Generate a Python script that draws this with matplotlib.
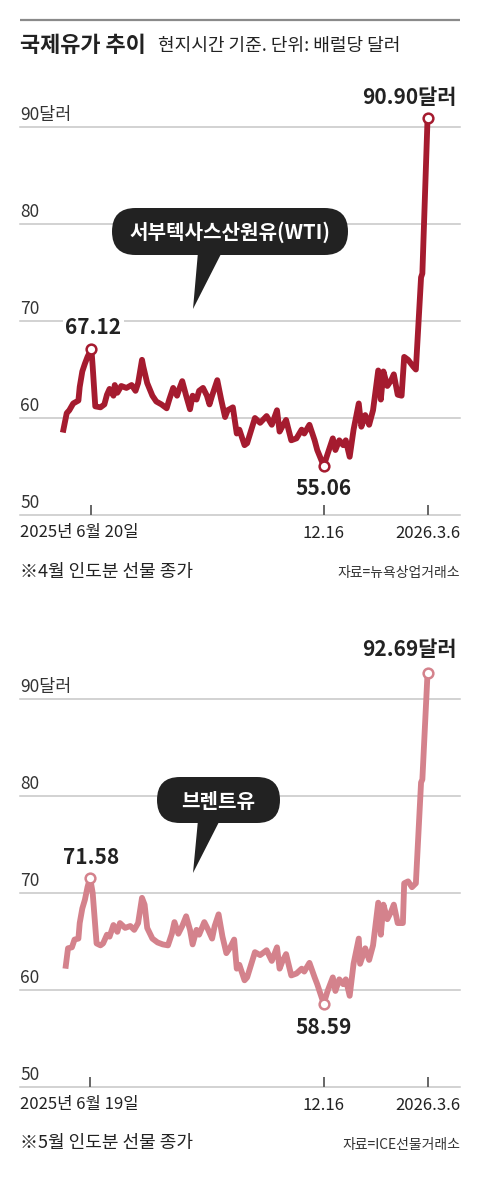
import matplotlib
matplotlib.use("Agg")
import matplotlib.pyplot as plt
import matplotlib.dates as mdates
from matplotlib.patches import FancyBboxPatch, Polygon
import pandas as pd

plt.rcParams['font.family'] = ['Noto Sans CJK KR', 'DejaVu Sans']

# ── data ──────────────────────────────────────────────────────────────────────

wti_dates = [
    "2025-05-29", "2025-06-01", "2025-06-03", "2025-06-06", "2025-06-10", "2025-06-11",
    "2025-06-13", "2025-06-15", "2025-06-17", "2025-06-20", "2025-06-21", "2025-06-23",
    "2025-06-27", "2025-06-30", "2025-07-02", "2025-07-04", "2025-07-07", "2025-07-08",
    "2025-07-10", "2025-07-13", "2025-07-17", "2025-07-21", "2025-07-24", "2025-07-26",
    "2025-07-29", "2025-07-30", "2025-08-02", "2025-08-06", "2025-08-09", "2025-08-13",
    "2025-08-17", "2025-08-19", "2025-08-22", "2025-08-25", "2025-08-27", "2025-08-29",
    "2025-09-01", "2025-09-04", "2025-09-06", "2025-09-09", "2025-09-11", "2025-09-14",
    "2025-09-17", "2025-09-19", "2025-09-21", "2025-09-25", "2025-09-28", "2025-10-01",
    "2025-10-03", "2025-10-07", "2025-10-10", "2025-10-12", "2025-10-16", "2025-10-18",
    "2025-10-24", "2025-10-28", "2025-11-02", "2025-11-06", "2025-11-10", "2025-11-12",
    "2025-11-14", "2025-11-17", "2025-11-21", "2025-11-25", "2025-11-29", "2025-12-01",
    "2025-12-05", "2025-12-09", "2025-12-11", "2025-12-16", "2025-12-19", "2025-12-23",
    "2025-12-25", "2025-12-28", "2025-12-31", "2026-01-02", "2026-01-05", "2026-01-08",
    "2026-01-12", "2026-01-14", "2026-01-17", "2026-01-20", "2026-01-23", "2026-01-27",
    "2026-01-29", "2026-01-31", "2026-02-03", "2026-02-06", "2026-02-08", "2026-02-11",
    "2026-02-14", "2026-02-16", "2026-02-19", "2026-02-23", "2026-02-25", "2026-03-01",
    "2026-03-02", "2026-03-06",
]
wti_values = [
    58.5, 60.5, 60.8, 61.5, 61.8, 63.2, 64.8, 65.6, 66.3, 67.12,
    65.3, 61.2, 61.1, 61.4, 62.4, 63.0, 62.3, 63.4, 62.6, 63.3,
    63.1, 63.4, 62.8, 63.6, 66.0, 65.3, 63.6, 62.3, 61.7, 61.4,
    61.0, 61.9, 63.1, 62.3, 63.1, 63.8, 62.3, 60.9, 62.3, 61.9,
    62.8, 63.1, 62.3, 61.4, 62.3, 63.9, 61.9, 60.1, 60.8, 61.1,
    58.4, 58.8, 57.2, 57.4, 60.0, 59.5, 60.2, 59.3, 60.8, 58.6,
    59.1, 59.8, 57.7, 57.9, 58.8, 58.4, 59.3, 57.7, 56.7, 55.06,
    56.3, 57.9, 56.7, 57.7, 57.2, 57.7, 56.0, 58.8, 61.5, 59.1,
    60.3, 59.3, 60.8, 64.9, 61.9, 64.8, 63.3, 63.9, 64.5, 62.4,
    62.3, 66.3, 66.0, 65.3, 65.0, 74.5, 74.9, 90.90,
]

brent_dates = [
    "2025-05-31", "2025-06-02", "2025-06-05", "2025-06-07", "2025-06-10", "2025-06-11",
    "2025-06-13", "2025-06-15", "2025-06-17", "2025-06-19", "2025-06-21", "2025-06-24",
    "2025-06-27", "2025-06-29", "2025-07-02", "2025-07-04", "2025-07-07", "2025-07-10",
    "2025-07-12", "2025-07-16", "2025-07-20", "2025-07-23", "2025-07-26", "2025-07-29",
    "2025-07-31", "2025-08-02", "2025-08-06", "2025-08-10", "2025-08-14", "2025-08-18",
    "2025-08-21", "2025-08-23", "2025-08-26", "2025-08-29", "2025-09-01", "2025-09-04",
    "2025-09-06", "2025-09-09", "2025-09-11", "2025-09-15", "2025-09-18", "2025-09-21",
    "2025-09-23", "2025-09-26", "2025-09-29", "2025-10-02", "2025-10-05", "2025-10-08",
    "2025-10-10", "2025-10-12", "2025-10-16", "2025-10-18", "2025-10-24", "2025-10-28",
    "2025-11-02", "2025-11-06", "2025-11-10", "2025-11-12", "2025-11-14", "2025-11-17",
    "2025-11-21", "2025-11-25", "2025-11-29", "2025-12-01", "2025-12-05", "2025-12-09",
    "2025-12-11", "2025-12-16", "2025-12-19", "2025-12-23", "2025-12-25", "2025-12-28",
    "2025-12-31", "2026-01-02", "2026-01-05", "2026-01-08", "2026-01-12", "2026-01-13",
    "2026-01-17", "2026-01-20", "2026-01-23", "2026-01-27", "2026-01-29", "2026-01-31",
    "2026-02-03", "2026-02-06", "2026-02-08", "2026-02-11", "2026-02-15", "2026-02-16",
    "2026-02-19", "2026-02-22", "2026-02-25", "2026-03-01", "2026-03-02", "2026-03-06",
]
brent_values = [
    62.2, 64.3, 64.4, 65.2, 65.3, 66.9, 68.4, 69.3, 70.6, 71.58,
    70.0, 64.8, 64.6, 64.8, 65.7, 65.5, 66.7, 66.0, 66.9, 66.4,
    66.6, 66.2, 66.9, 69.5, 68.8, 66.4, 65.3, 64.9, 64.7, 64.6,
    65.8, 67.0, 65.8, 66.6, 67.6, 66.2, 64.7, 66.2, 65.7, 67.0,
    66.2, 65.3, 66.6, 67.8, 65.5, 63.8, 64.4, 65.2, 62.2, 62.6,
    61.0, 61.3, 63.9, 63.6, 64.1, 63.0, 64.4, 62.2, 62.9, 63.7,
    61.5, 61.7, 62.2, 61.9, 62.8, 61.3, 60.6, 58.59, 59.9, 61.3,
    59.9, 61.1, 60.6, 61.1, 59.4, 62.7, 65.3, 62.7, 64.3, 63.1,
    64.6, 69.0, 65.7, 68.8, 67.3, 68.1, 68.8, 66.9, 66.9, 71.0,
    71.2, 70.6, 71.0, 81.4, 81.7, 92.69,
]

y_levels = [50, 60, 70, 80, 90]
y_labels = ["50", "60", "70", "80", "90달러"]

wti_ticks = ["2025-06-20", "2025-12-16", "2026-03-06"]
wti_tick_labels = ["2025년 6월 20일", "12.16", "2026.3.6"]
brent_ticks = ["2025-06-19", "2025-12-16", "2026-03-06"]
brent_tick_labels = ["2025년 6월 19일", "12.16", "2026.3.6"]

WTI_COLOR = "#a51b2f"
BRENT_COLOR = "#d4828c"
TEXT = "#222222"
GRID = "#c6c6c6"

W, H = 480, 1178
XLIM = (pd.Timestamp("2025-04-26"), pd.Timestamp("2026-03-31"))


def rect(x0, y_top, x1, y_bot):
    return [x0 / W, 1 - y_bot / H, (x1 - x0) / W, (y_bot - y_top) / H]


def draw_panel(ax, dates, values, color, ticks, tick_labels, offsets):
    x = pd.to_datetime(dates)
    ax.set_xlim(*XLIM)
    ax.set_ylim(50, 95)
    for s in ax.spines.values():
        s.set_visible(False)
    ax.patch.set_alpha(0)

    for lvl, lab in zip(y_levels, y_labels):
        ax.axhline(lvl, color=GRID, lw=1.1, zorder=1, clip_on=False)
        ax.annotate(lab, (0, lvl), xycoords=ax.get_yaxis_transform(),
                    xytext=(0, 3), textcoords='offset pixels',
                    ha='left', va='bottom', fontsize=12.5, color="#333333")

    ax.plot(x, values, color=color, lw=4.2, solid_joinstyle='round',
            solid_capstyle='butt', zorder=3)

    tick_x = pd.to_datetime(ticks)
    ax.set_xticks(tick_x)
    ax.tick_params(axis='x', direction='in', length=7, width=1.4,
                   color="#666666", labelbottom=False)
    ax.tick_params(axis='y', length=0, labelleft=False)

    trans = ax.get_xaxis_transform()
    ax.annotate(tick_labels[0], (0, 0), xycoords='axes fraction', xytext=(0, -18),
                textcoords='offset pixels', ha='left', va='center',
                fontsize=12, color=TEXT)
    ax.annotate(tick_labels[1], (mdates.date2num(tick_x[1]), 0), xycoords=trans,
                xytext=(0, -18), textcoords='offset pixels', ha='center', va='center',
                fontsize=12, color=TEXT)
    ax.annotate(tick_labels[2], (1, 0), xycoords='axes fraction', xytext=(0, -18),
                textcoords='offset pixels', ha='right', va='center',
                fontsize=12, color=TEXT)

    # highlighted points: peak, low, last
    i_peak = values.index(max(values[:20]))
    i_low = values.index(min(values))
    i_last = len(values) - 1
    for i, (dx, dy, ha, suffix) in zip([i_peak, i_low, i_last], offsets):
        xi = mdates.date2num(x[i])
        ax.plot(xi, values[i], 'o', ms=7, mfc='white', mec=color, mew=1.8, zorder=4)
        ax.annotate(f"{values[i]:.2f}{suffix}", (xi, values[i]), xytext=(dx, dy),
                    textcoords='offset pixels', ha=ha, va='center',
                    fontsize=15, fontweight='bold', color=TEXT, zorder=5,
                    bbox=dict(boxstyle='square,pad=0.12', fc='white', ec='none'))


fig = plt.figure(figsize=(W / 100, H / 100), dpi=100)
fig.patch.set_facecolor('white')

ax1 = fig.add_axes(rect(20, 515 - 45 * 9.7, 460, 515))
draw_panel(ax1, wti_dates, wti_values, WTI_COLOR, wti_ticks, wti_tick_labels,
           [(2, 21, 'center', ""), (0, -23, 'center', ""), (29, 21, 'right', "달러")])

ax2 = fig.add_axes(rect(20, 1087 - 45 * 9.7, 460, 1087))
draw_panel(ax2, brent_dates, brent_values, BRENT_COLOR, brent_ticks, brent_tick_labels,
           [(1, 20, 'center', ""), (0, -24, 'center', ""), (29, 23, 'right', "달러")])

# overlay in pixel coordinates for headings, callouts and notes
ov = fig.add_axes([0, 0, 1, 1], zorder=5)
ov.set_xlim(0, W)
ov.set_ylim(H, 0)
ov.axis('off')
ov.patch.set_alpha(0)

ov.plot([20, 460], [20, 20], color="#8a8a8a", lw=1.6, solid_capstyle='butt')
ov.text(20, 45, "국제유가 추이", fontsize=15.8, fontweight='bold', color=TEXT,
        ha='left', va='center')
ov.text(158, 46, "현지시간 기준. 단위: 배럴당 달러", fontsize=13, color=TEXT,
        ha='left', va='center')


def bubble(x0, y0, w, h, tail, label, fs):
    ov.add_patch(FancyBboxPatch((x0, y0), w, h,
                                boxstyle=f"round,pad=0,rounding_size={h / 2}",
                                fc="#222222", ec='none', zorder=6))
    ov.add_patch(Polygon(tail, closed=True, fc="#222222", ec='none', zorder=6))
    ov.text(x0 + w / 2, y0 + h / 2 + 1, label, fontsize=fs, fontweight='bold',
            color='white', ha='center', va='center', zorder=7)


bubble(112, 208, 236, 47, [(198, 252), (222, 252), (193, 309)],
       "서부텍사스산원유(WTI)", 14.5)
bubble(157, 777, 123, 46, [(198, 820), (220, 820), (193, 873)], "브렌트유", 14.5)

ov.text(20, 572, "※4월 인도분 선물 종가", fontsize=13, color=TEXT, ha='left', va='center')
ov.text(460, 573, "자료=뉴욕상업거래소", fontsize=10, color="#333333", ha='right', va='center')
ov.text(20, 1143, "※5월 인도분 선물 종가", fontsize=13, color=TEXT, ha='left', va='center')
ov.text(460, 1145, "자료=ICE선물거래소", fontsize=10, color="#333333", ha='right', va='center')

fig.savefig("out.png", dpi=100)
